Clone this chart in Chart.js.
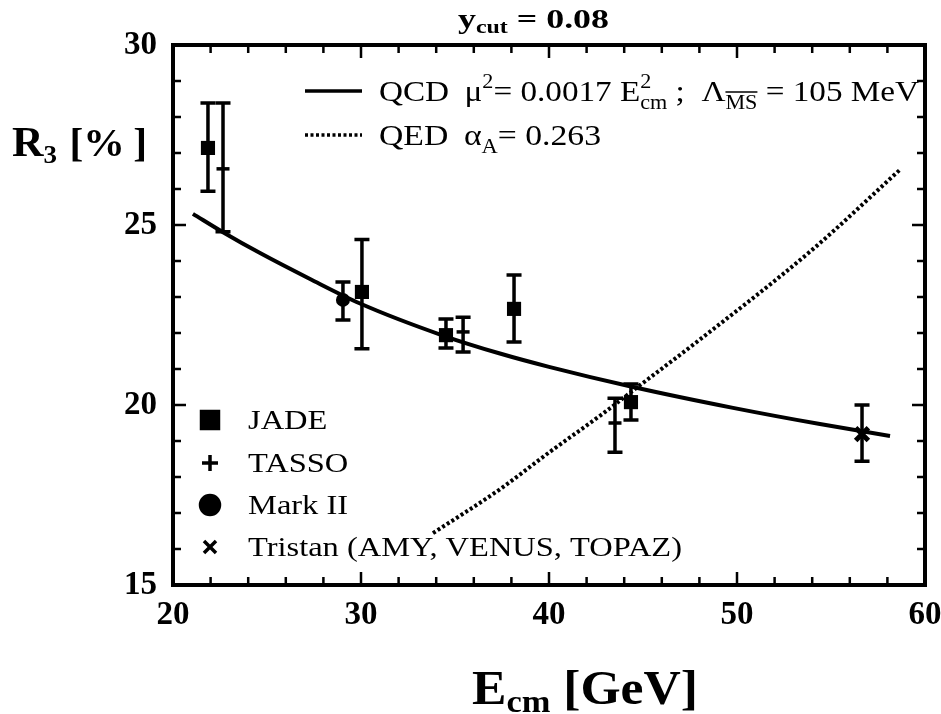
<!DOCTYPE html>
<html>
<head>
<meta charset="utf-8">
<title>R3 vs Ecm</title>
<script src="https://cdn.jsdelivr.net/npm/chart.js@4.4.1/dist/chart.umd.min.js"></script>
<style>
  html, body { margin: 0; padding: 0; background: #fff; }
</style>
</head>
<body>
<canvas id="r3Chart" width="941" height="714"></canvas>
<script>
// data (E_cm in GeV, R3 in %)
const jadeE = [21.86, 30.05, 34.52, 38.14, 44.36];
const jadeR = [27.14, 23.14, 21.94, 22.67, 20.08];
const jadeLo = [25.94, 21.56, 21.58, 21.75, 19.58];
const jadeHi = [28.39, 24.6, 22.39, 23.61, 20.58];

const tassoE = [22.66, 35.43, 43.51];
const tassoR = [26.56, 22.03, 19.5];
const tassoLo = [24.81, 21.47, 18.69];
const tassoHi = [28.39, 22.44, 20.19];

const markE = [29.04];
const markR = [22.92];
const markLo = [22.36];
const markHi = [23.42];

const tristanE = [56.65];
const tristanR = [19.19];
const tristanLo = [18.44];
const tristanHi = [20.0];

const qcdE = [21.06, 22.66, 24.63, 27.29, 29.95, 34.36, 37.39, 40.0, 44.47, 49.79, 54.41, 58.14];
const qcdR = [25.31, 24.8, 24.22, 23.5, 22.82, 21.93, 21.43, 21.06, 20.5, 19.92, 19.47, 19.14];

const qedE = [33.83, 37.39, 40.05, 42.71, 44.84, 48.03, 54.04, 58.7];
const qedR = [16.44, 17.66, 18.7, 19.7, 20.55, 21.82, 24.33, 26.55];

const xTicks = [20, 30, 40, 50, 60];
const yTicks = [15, 20, 25, 30];

const serif = "'Liberation Serif', 'Times New Roman', serif";

function pts(xs, ys) {
  return xs.map((x, i) => ({ x: x, y: ys[i] }));
}

function errPts(xs, lo, hi) {
  return xs.map((x, i) => ({ x: x, lo: lo[i], hi: hi[i] }));
}

const errorSets = [
  errPts(jadeE, jadeLo, jadeHi),
  errPts(tassoE, tassoLo, tassoHi),
  errPts(markE, markLo, markHi),
  errPts(tristanE, tristanLo, tristanHi),
];

// width of a row of text pieces {t, f, dy, sub, subF, subDy, over, gap}
function runWidth(ctx, runs) {
  let w = 0;
  runs.forEach((r) => {
    ctx.font = r.f;
    let rw = ctx.measureText(r.t).width;
    if (r.sub) {
      ctx.font = r.subF || r.f;
      rw = Math.max(rw, ctx.measureText(r.sub).width);
    }
    w += rw + (r.gap || 0);
  });
  return w;
}

// draws the pieces stretched sideways by s (the scanned original is a bit wide)
function drawRuns(ctx, x0, base, s, runs) {
  ctx.save();
  ctx.translate(x0, base);
  ctx.scale(s, 1);
  let x = 0;
  runs.forEach((r) => {
    ctx.font = r.f;
    ctx.fillText(r.t, x, r.dy || 0);
    let rw = ctx.measureText(r.t).width;
    if (r.sub) {
      ctx.font = r.subF || r.f;
      ctx.fillText(r.sub, x, r.subDy || 0);
      rw = Math.max(rw, ctx.measureText(r.sub).width);
    }
    if (r.over !== undefined) {
      ctx.lineWidth = 1.5;
      ctx.beginPath();
      ctx.moveTo(x, r.over);
      ctx.lineTo(x + rw, r.over);
      ctx.stroke();
    }
    x += rw + (r.gap || 0);
  });
  ctx.restore();
}

function drawFit(ctx, x0, x1, base, runs) {
  drawRuns(ctx, x0, base, (x1 - x0) / runWidth(ctx, runs), runs);
}

const decorations = {
  id: "decorations",
  beforeDatasetsDraw(chart) {
    const ctx = chart.ctx;
    const xs = chart.scales.x;
    const ys = chart.scales.y;
    ctx.save();
    ctx.strokeStyle = "#000";
    ctx.lineWidth = 3.5;
    errorSets.forEach((set) => {
      set.forEach((p) => {
        const px = xs.getPixelForValue(p.x);
        const top = ys.getPixelForValue(p.hi);
        const bot = ys.getPixelForValue(p.lo);
        ctx.beginPath();
        ctx.moveTo(px, top);
        ctx.lineTo(px, bot);
        ctx.moveTo(px - 7.5, top);
        ctx.lineTo(px + 7.5, top);
        ctx.moveTo(px - 7.5, bot);
        ctx.lineTo(px + 7.5, bot);
        ctx.stroke();
      });
    });
    ctx.restore();
  },
  afterDraw(chart) {
    const ctx = chart.ctx;
    const a = chart.chartArea;
    const xs = chart.scales.x;
    const ys = chart.scales.y;
    ctx.save();
    ctx.strokeStyle = "#000";
    ctx.fillStyle = "#000";

    // frame
    ctx.lineWidth = 4;
    ctx.strokeRect(a.left, a.top, a.right - a.left, a.bottom - a.top);

    // inward ticks on all sides
    ctx.lineWidth = 2.5;
    ctx.beginPath();
    for (let v = 22; v < 60; v += 2) {
      const px = xs.getPixelForValue(v);
      const len = v % 10 === 0 ? 13 : 8;
      ctx.moveTo(px, a.bottom);
      ctx.lineTo(px, a.bottom - len);
      ctx.moveTo(px, a.top);
      ctx.lineTo(px, a.top + len);
    }
    for (let v = 16; v < 30; v += 1) {
      const py = ys.getPixelForValue(v);
      const len = v % 5 === 0 ? 13 : 8;
      ctx.moveTo(a.left, py);
      ctx.lineTo(a.left + len, py);
      ctx.moveTo(a.right, py);
      ctx.lineTo(a.right - len, py);
    }
    ctx.stroke();

    ctx.textBaseline = "alphabetic";
    ctx.textAlign = "left";

    const b27 = "bold 27px " + serif;
    const b18 = "bold 18px " + serif;

    // title
    drawFit(ctx, 458, 609, 28, [
      { t: "y", f: b27 },
      { t: "cut", f: b18, dy: 5 },
      { t: " = 0.08", f: b27 },
    ]);

    // y axis title
    drawFit(ctx, 12, 147, 156, [
      { t: "R", f: "bold 42px " + serif },
      { t: "3", f: "bold 26px " + serif, dy: 7, gap: 12 },
      { t: "[%", f: "bold 40px " + serif, gap: 8 },
      { t: "]", f: "bold 40px " + serif },
    ]);

    // x axis title
    drawFit(ctx, 472, 698, 704, [
      { t: "E", f: "bold 48px " + serif },
      { t: "cm", f: "bold 32px " + serif, dy: 8 },
      { t: " [GeV]", f: "bold 48px " + serif },
    ]);

    // model legend
    const big = "30px " + serif;
    const small = "20px " + serif;
    ctx.lineWidth = 3.5;
    ctx.beginPath();
    ctx.moveTo(305, 91);
    ctx.lineTo(362, 91);
    ctx.stroke();
    ctx.lineWidth = 3.5;
    ctx.setLineDash([3, 2.5]);
    ctx.beginPath();
    ctx.moveTo(305, 135);
    ctx.lineTo(362, 135);
    ctx.stroke();
    ctx.setLineDash([]);

    drawFit(ctx, 379, 919, 101, [
      { t: "QCD", f: big, gap: 14 },
      { t: "\u03bc", f: big },
      { t: "2", f: small, dy: -13 },
      { t: "= 0.0017 E", f: big },
      { t: "2", f: small, dy: -13, sub: "cm", subDy: 8 },
      { t: " ;  \u039b", f: big },
      { t: "MS", f: small, dy: 8, over: -9 },
      { t: " = 105 MeV", f: big },
    ]);

    drawFit(ctx, 379, 601, 145, [
      { t: "QED", f: big, gap: 14 },
      { t: "\u03b1", f: big },
      { t: "A", f: small, dy: 8 },
      { t: "= 0.263", f: big },
    ]);

    // experiment legend
    const leg = "27px " + serif;
    ctx.font = leg;
    const stretch = (682 - 248) / ctx.measureText("Tristan (AMY, VENUS, TOPAZ)").width;
    const rows = [
      ["JADE", "rect", 12, 420],
      ["TASSO", "cross", 8, 463],
      ["Mark II", "circle", 9.5, 505],
      ["Tristan (AMY, VENUS, TOPAZ)", "crossRot", 8.5, 547],
    ];
    rows.forEach((r) => {
      Chart.helpers.drawPoint(ctx, { pointStyle: r[1], radius: r[2], borderWidth: 4.5, rotation: 0 }, 210, r[3]);
      drawRuns(ctx, 248, r[3] + 9, stretch, [{ t: r[0], f: leg }]);
    });

    ctx.restore();
  },
};

function renderChart() {
  new Chart(document.getElementById("r3Chart"), {
    type: "scatter",
    data: {
      datasets: [
        {
          label: "QCD",
          data: pts(qcdE, qcdR),
          showLine: true,
          borderColor: "#000",
          borderWidth: 4,
          pointRadius: 0,
          cubicInterpolationMode: "monotone",
        },
        {
          label: "QED",
          data: pts(qedE, qedR),
          showLine: true,
          borderColor: "#000",
          borderWidth: 4,
          borderDash: [3, 2.5],
          pointRadius: 0,
          cubicInterpolationMode: "monotone",
        },
        {
          label: "JADE",
          data: pts(jadeE, jadeR),
          pointStyle: "rect",
          pointRadius: 10,
          borderWidth: 0,
          backgroundColor: "#000",
          borderColor: "#000",
        },
        {
          label: "TASSO",
          data: pts(tassoE, tassoR),
          pointStyle: "line",
          pointRadius: 6.5,
          borderWidth: 3.5,
          borderColor: "#000",
        },
        {
          label: "Mark II",
          data: pts(markE, markR),
          pointStyle: "circle",
          pointRadius: 7,
          borderWidth: 0,
          backgroundColor: "#000",
          borderColor: "#000",
        },
        {
          label: "Tristan",
          data: pts(tristanE, tristanR),
          pointStyle: "crossRot",
          pointRadius: 9,
          borderWidth: 5,
          borderColor: "#000",
        },
      ],
    },
    options: {
      responsive: false,
      animation: false,
      events: [],
      layout: { padding: { top: 45, right: 16, left: 0, bottom: 0 } },
      plugins: { legend: { display: false }, tooltip: { enabled: false } },
      scales: {
        x: {
          type: "linear",
          min: 20,
          max: 60,
          afterFit: (s) => {
            s.height = 129;
            s.paddingLeft = 0;
            s.paddingRight = 0;
          },
          afterBuildTicks: (s) => { s.ticks = xTicks.map((v) => ({ value: v })); },
          grid: { display: false, drawTicks: false },
          border: { display: false },
          ticks: {
            padding: 11,
            color: "#000",
            autoSkip: false,
            maxRotation: 0,
            font: { family: serif, size: 33, weight: "bold" },
          },
        },
        y: {
          type: "linear",
          min: 15,
          max: 30,
          afterFit: (s) => {
            s.width = 173;
            s.paddingTop = 0;
            s.paddingBottom = 0;
          },
          afterBuildTicks: (s) => { s.ticks = yTicks.map((v) => ({ value: v })); },
          grid: { display: false, drawTicks: false },
          border: { display: false },
          ticks: {
            padding: 16,
            color: "#000",
            autoSkip: false,
            font: { family: serif, size: 33, weight: "bold" },
          },
        },
      },
    },
    plugins: [decorations],
  });
}

document.addEventListener("DOMContentLoaded", renderChart);
</script>
</body>
</html>
